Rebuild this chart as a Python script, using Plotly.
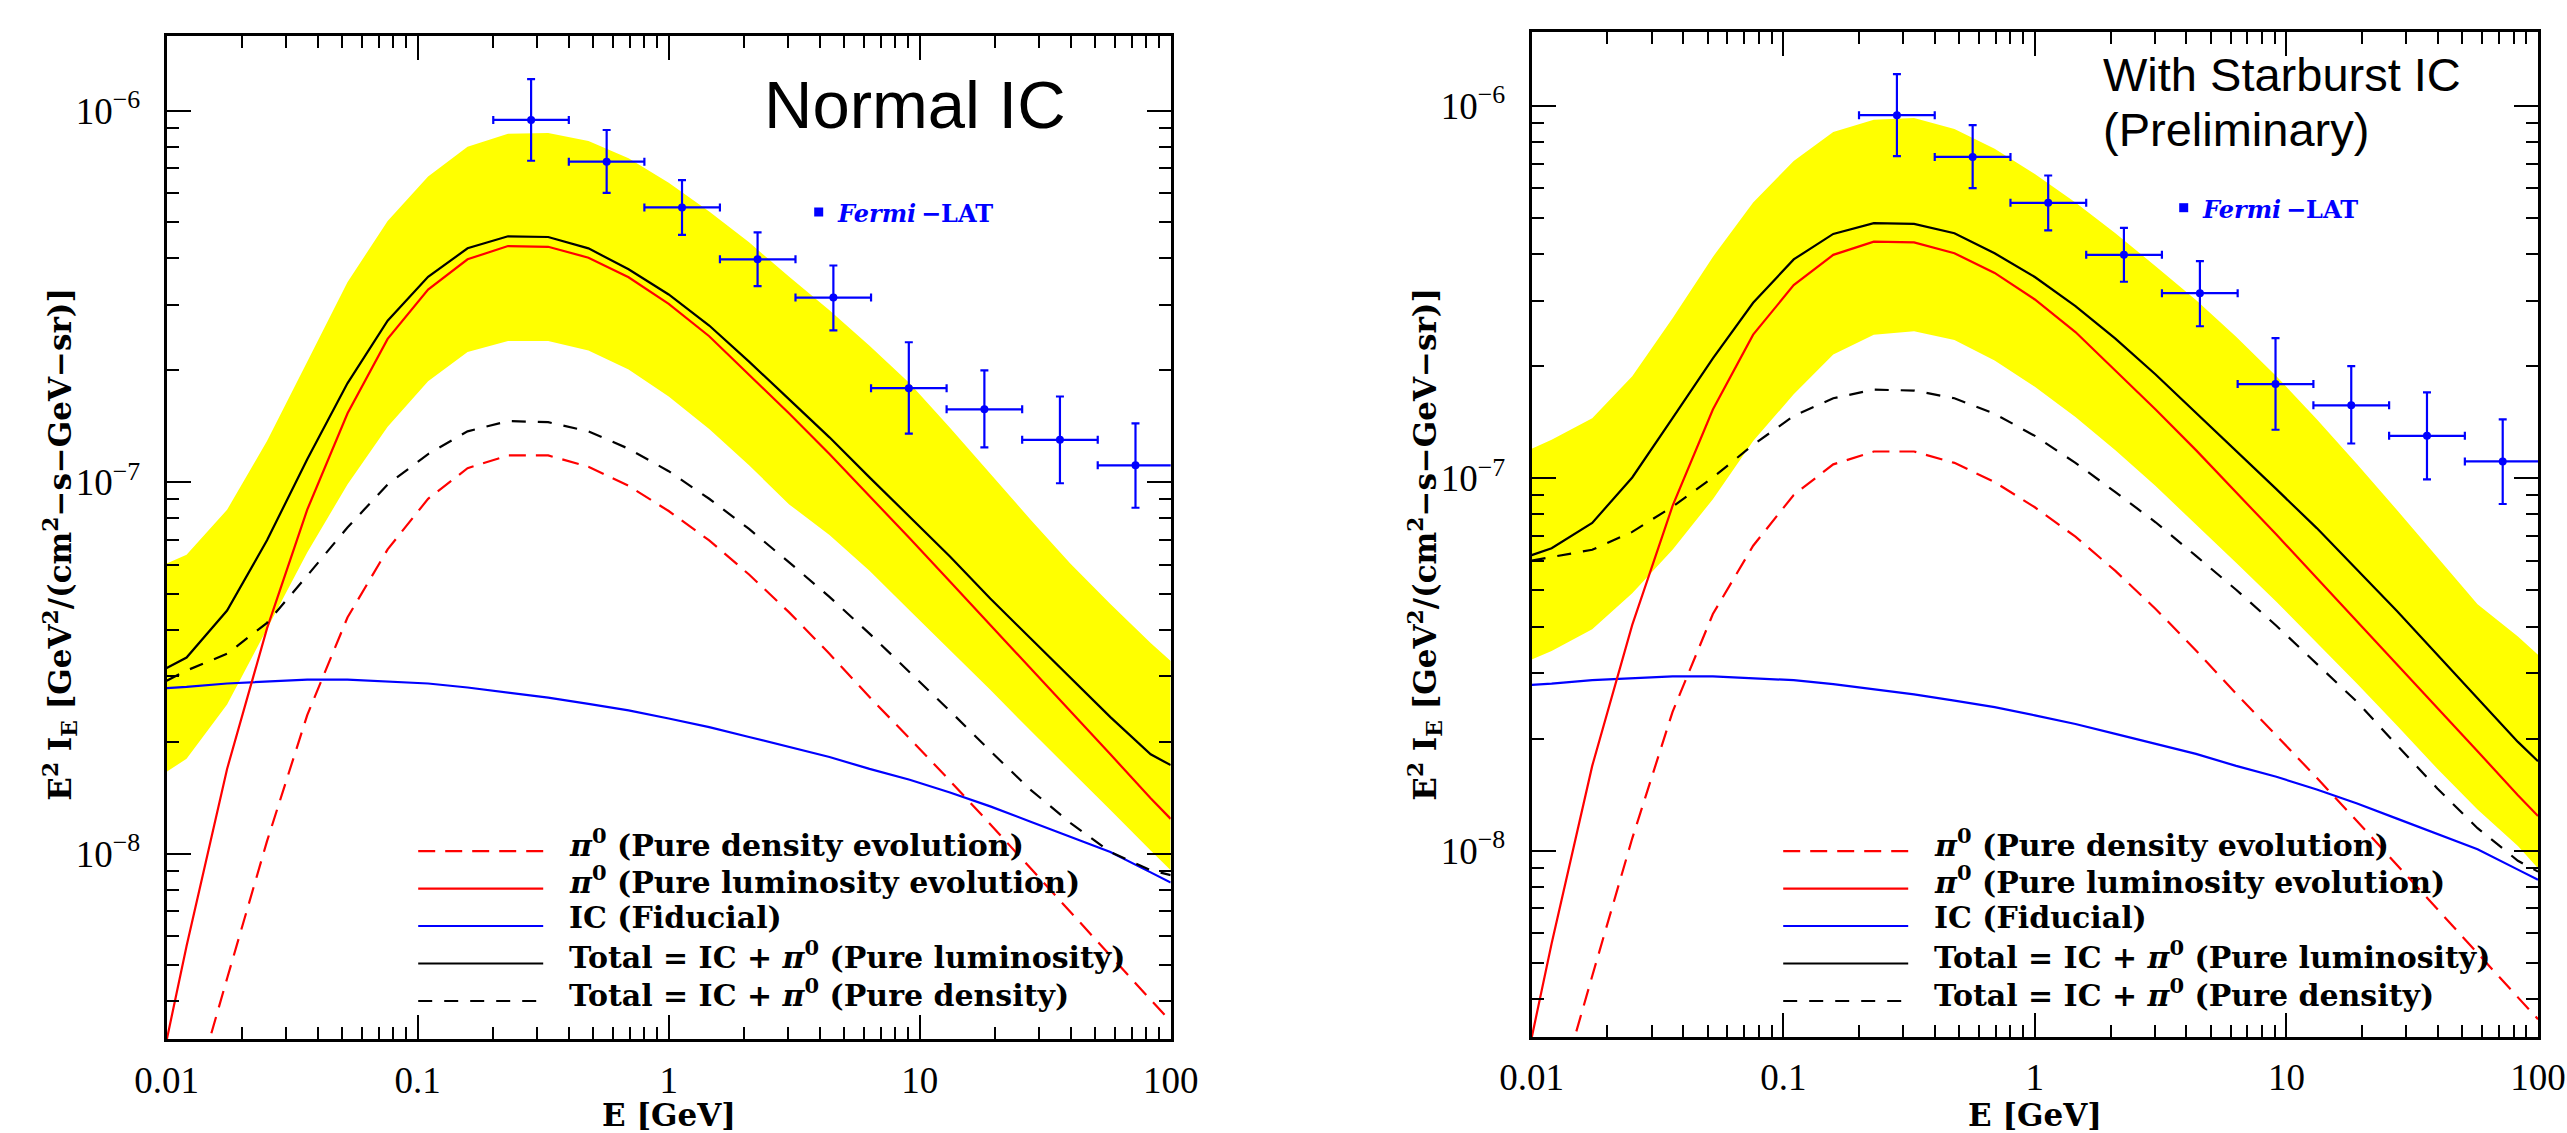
import plotly.graph_objects as go

W, H = 2567, 1133

# ---------------- data ----------------
# Energy grid of the model curves [GeV]
E = [0.01, 0.012, 0.0174, 0.0251, 0.0363, 0.0525, 0.0759, 0.110, 0.158, 0.229,
     0.331, 0.479, 0.692, 1.0, 1.45, 2.09, 3.02, 4.37, 6.31, 9.12,
     13.2, 19.1, 27.5, 39.8, 57.5, 83.2, 100.0]

# shared components (same in both panels)
ic_fiducial = [2.79e-8, 2.81e-8, 2.87e-8, 2.91e-8, 2.94e-8, 2.94e-8, 2.91e-8, 2.87e-8, 2.80e-8, 2.71e-8,
               2.63e-8, 2.53e-8, 2.43e-8, 2.31e-8, 2.19e-8, 2.06e-8, 1.94e-8, 1.82e-8, 1.69e-8, 1.58e-8,
               1.46e-8, 1.34e-8, 1.22e-8, 1.11e-8, 1.01e-8, 8.90e-9, 8.36e-9]
pi0_density = [1.25e-9, 1.93e-9, 4.61e-9, 1.08e-8, 2.36e-8, 4.32e-8, 6.59e-8, 9.02e-8, 1.09e-7, 1.18e-7,
               1.18e-7, 1.10e-7, 9.77e-8, 8.36e-8, 6.97e-8, 5.64e-8, 4.46e-8, 3.45e-8, 2.64e-8, 2.04e-8,
               1.57e-8, 1.20e-8, 9.16e-9, 6.97e-9, 5.28e-9, 4.04e-9, 3.53e-9]
pi0_luminosity = [3.15e-9, 5.64e-9, 1.69e-8, 4.04e-8, 8.43e-8, 1.53e-7, 2.43e-7, 3.30e-7, 3.98e-7, 4.32e-7,
                  4.30e-7, 4.02e-7, 3.56e-7, 3.02e-7, 2.47e-7, 1.95e-7, 1.53e-7, 1.19e-7, 9.18e-8, 7.06e-8,
                  5.40e-8, 4.13e-8, 3.16e-8, 2.42e-8, 1.85e-8, 1.41e-8, 1.24e-8]

# left panel: Normal IC
total_lum_normal = [3.16e-8, 3.37e-8, 4.51e-8, 6.97e-8, 1.153e-7, 1.845e-7, 2.72e-7, 3.57e-7, 4.26e-7, 4.59e-7,
                    4.57e-7, 4.26e-7, 3.74e-7, 3.20e-7, 2.64e-7, 2.11e-7, 1.67e-7, 1.32e-7, 1.03e-7, 8.07e-8,
                    6.31e-8, 4.86e-8, 3.81e-8, 2.98e-8, 2.33e-8, 1.85e-8, 1.73e-8]
total_den_normal = [2.92e-8, 3.11e-8, 3.45e-8, 4.18e-8, 5.60e-8, 7.55e-8, 9.86e-8, 1.19e-7, 1.37e-7, 1.46e-7,
                    1.45e-7, 1.37e-7, 1.23e-7, 1.07e-7, 9.02e-8, 7.48e-8, 6.08e-8, 4.91e-8, 3.91e-8, 3.08e-8,
                    2.42e-8, 1.89e-8, 1.49e-8, 1.21e-8, 1.01e-8, 9.02e-9, 8.75e-9]
band_hi_normal = [6.04e-8, 6.37e-8, 8.43e-8, 1.29e-7, 2.11e-7, 3.45e-7, 5.05e-7, 6.65e-7, 8.00e-7, 8.67e-7,
                  8.71e-7, 8.28e-7, 7.45e-7, 6.40e-7, 5.35e-7, 4.42e-7, 3.57e-7, 2.90e-7, 2.33e-7, 1.845e-7,
                  1.40e-7, 1.05e-7, 7.96e-8, 6.04e-8, 4.70e-8, 3.69e-8, 3.30e-8]
band_lo_normal = [1.66e-8, 1.80e-8, 2.52e-8, 4.04e-8, 6.46e-8, 9.86e-8, 1.41e-7, 1.87e-7, 2.24e-7, 2.40e-7,
                  2.40e-7, 2.26e-7, 2.01e-7, 1.70e-7, 1.39e-7, 1.11e-7, 8.71e-8, 7.21e-8, 5.77e-8, 4.51e-8,
                  3.53e-8, 2.76e-8, 2.15e-8, 1.68e-8, 1.31e-8, 1.02e-8, 9.02e-9]

# right panel: With Starburst IC
total_lum_starburst = [6.22e-8, 6.49e-8, 7.59e-8, 1.005e-7, 1.45e-7, 2.10e-7, 2.96e-7, 3.87e-7, 4.53e-7, 4.84e-7,
                       4.82e-7, 4.55e-7, 4.02e-7, 3.47e-7, 2.90e-7, 2.37e-7, 1.90e-7, 1.50e-7, 1.19e-7, 9.35e-8,
                       7.35e-8, 5.69e-8, 4.40e-8, 3.36e-8, 2.57e-8, 1.96e-8, 1.74e-8]
total_den_starburst = [6.01e-8, 6.14e-8, 6.43e-8, 7.18e-8, 8.39e-8, 1.005e-7, 1.23e-7, 1.47e-7, 1.64e-7, 1.73e-7,
                       1.72e-7, 1.64e-7, 1.49e-7, 1.30e-7, 1.10e-7, 9.18e-8, 7.62e-8, 6.19e-8, 5.02e-8, 4.02e-8,
                       3.18e-8, 2.51e-8, 1.92e-8, 1.47e-8, 1.15e-8, 9.40e-9, 8.79e-9]
band_hi_starburst = [1.20e-7, 1.27e-7, 1.45e-7, 1.88e-7, 2.69e-7, 3.93e-7, 5.50e-7, 7.11e-7, 8.51e-7, 9.18e-7,
                     9.27e-7, 8.67e-7, 7.67e-7, 6.56e-7, 5.50e-7, 4.55e-7, 3.71e-7, 3.01e-7, 2.40e-7, 1.88e-7,
                     1.44e-7, 1.09e-7, 8.22e-8, 6.14e-8, 4.59e-8, 3.76e-8, 3.36e-8]
band_lo_starburst = [3.26e-8, 3.44e-8, 3.93e-8, 4.91e-8, 6.43e-8, 8.79e-8, 1.26e-7, 1.68e-7, 2.15e-7, 2.43e-7,
                     2.48e-7, 2.35e-7, 2.07e-7, 1.76e-7, 1.46e-7, 1.19e-7, 9.53e-8, 7.52e-8, 5.93e-8, 4.66e-8,
                     3.62e-8, 2.81e-8, 2.17e-8, 1.66e-8, 1.29e-8, 1.03e-8, 8.98e-9]

# Fermi-LAT EGB points
fermi_E = [0.283, 0.566, 1.13, 2.26, 4.53, 9.05, 18.1, 36.2, 72.4]
fermi_E_lo = [0.2, 0.4, 0.8, 1.6, 3.2, 6.4, 12.8, 25.6, 51.2]
fermi_E_hi = [0.4, 0.8, 1.6, 3.2, 6.4, 12.8, 25.6, 51.2, 102.4]
fermi_flux = [9.44e-7, 7.29e-7, 5.49e-7, 3.98e-7, 3.14e-7, 1.79e-7, 1.57e-7, 1.30e-7, 1.11e-7]
fermi_flux_hi = [1.216e-6, 8.87e-7, 6.50e-7, 4.70e-7, 3.83e-7, 2.38e-7, 2.00e-7, 1.70e-7, 1.44e-7]
fermi_flux_lo = [7.33e-7, 6.01e-7, 4.63e-7, 3.37e-7, 2.56e-7, 1.35e-7, 1.24e-7, 9.93e-8, 8.53e-8]

x_tickvals = [0.01, 0.1, 1, 10, 100]
x_ticktext = ["0.01", "0.1", "1", "10", "100"]
y_tickvals = [1e-8, 1e-7, 1e-6]
y_ticktext = ["10<sup>\u22128</sup>", "10<sup>\u22127</sup>", "10<sup>\u22126</sup>"]
x_minor = [m * d for d in (0.01, 0.1, 1, 10) for m in range(2, 10)]
y_minor = [m * d for d in (1e-9, 1e-8, 1e-7, 1e-6) for m in range(2, 10)]

legend_items = [
    ("<i>\u03c0</i><sup>0</sup> (Pure density evolution)", "#ff0000", "17px,10px"),
    ("<i>\u03c0</i><sup>0</sup> (Pure luminosity evolution)", "#ff0000", "solid"),
    ("IC (Fiducial)", "#0000ff", "solid"),
    ("Total = IC + <i>\u03c0</i><sup>0</sup> (Pure luminosity)", "#000000", "solid"),
    ("Total = IC + <i>\u03c0</i><sup>0</sup> (Pure density)", "#000000", "14px,12px"),
]

# ---------------- figure ----------------
def fx(x):
    return x / W


def fy(y):
    return 1 - y / H


YEL = "#ffff00"
LW = 2.2
BOLD_FONT = "DejaVu Serif"

panels = [
    dict(xa="x", ya="y", box=(166.7, 36.0, 1170.7, 1039.3), yr=[-8.50, -5.799],
         tl=total_lum_normal, td=total_den_normal, bh=band_hi_normal, bl=band_lo_normal),
    dict(xa="x2", ya="y2", box=(1531.7, 31.7, 2538.0, 1037.0), yr=[-8.50, -5.801],
         tl=total_lum_starburst, td=total_den_starburst, bh=band_hi_starburst, bl=band_lo_starburst),
]

fig = go.Figure()
annotations = []
shapes = []
layout_axes = {}

for i, p in enumerate(panels):
    xa, ya = p["xa"], p["ya"]
    common = dict(xaxis=xa, yaxis=ya, mode="lines", showlegend=False, hoverinfo="skip")
    fig.add_trace(go.Scatter(x=E, y=p["bl"], line=dict(width=0, color=YEL), **common))
    fig.add_trace(go.Scatter(x=E, y=p["bh"], line=dict(width=0, color=YEL), fill="tonexty",
                             fillcolor=YEL, **common))
    fig.add_trace(go.Scatter(x=E, y=ic_fiducial, line=dict(width=LW, color="#0000ff"), **common))
    fig.add_trace(go.Scatter(x=E, y=pi0_density, line=dict(width=LW, color="#ff0000", dash="17px,10px"), **common))
    fig.add_trace(go.Scatter(x=E, y=pi0_luminosity, line=dict(width=LW, color="#ff0000"), **common))
    fig.add_trace(go.Scatter(x=E, y=p["td"], line=dict(width=LW, color="#000000", dash="14px,12px"), **common))
    fig.add_trace(go.Scatter(x=E, y=p["tl"], line=dict(width=LW, color="#000000"), **common))
    fig.add_trace(go.Scatter(
        x=fermi_E, y=fermi_flux, xaxis=xa, yaxis=ya, mode="markers", showlegend=False,
        marker=dict(size=8, color="#0000ff"),
        error_x=dict(type="data", symmetric=False,
                     array=[h - c for h, c in zip(fermi_E_hi, fermi_E)],
                     arrayminus=[c - l for c, l in zip(fermi_E, fermi_E_lo)],
                     color="#0000ff", thickness=2.2, width=4),
        error_y=dict(type="data", symmetric=False,
                     array=[h - c for h, c in zip(fermi_flux_hi, fermi_flux)],
                     arrayminus=[c - l for c, l in zip(fermi_flux, fermi_flux_lo)],
                     color="#0000ff", thickness=2.2, width=4),
    ))

    x0, y0, x1, y1 = p["box"]
    sfx = "" if i == 0 else "2"
    axis_common = dict(type="log", showline=True, linewidth=3, linecolor="black", mirror="allticks",
                       ticks="inside", ticklen=24, tickwidth=2, tickcolor="black", showgrid=False,
                       zeroline=False, automargin=False,
                       tickfont=dict(family="Liberation Serif", size=37, color="black"))
    layout_axes["xaxis" + sfx] = dict(
        axis_common, domain=[fx(x0), fx(x1)], range=[-2, 2], anchor=ya,
        tickmode="array", tickvals=x_tickvals, ticktext=x_ticktext, ticklabelstandoff=6,
        minor=dict(tickvals=x_minor, ticks="inside", ticklen=12, tickwidth=2, tickcolor="black", showgrid=False))
    layout_axes["yaxis" + sfx] = dict(
        axis_common, domain=[fy(y1), fy(y0)], range=p["yr"], anchor=xa,
        tickmode="array", tickvals=y_tickvals, ticktext=y_ticktext, ticklabelstandoff=16,
        minor=dict(tickvals=y_minor, ticks="inside", ticklen=12, tickwidth=2, tickcolor="black", showgrid=False))

    # axis titles
    annotations.append(dict(text="<b>E [GeV]</b>", x=fx((x0 + x1) / 2), y=fy(1115), xref="paper", yref="paper",
                            showarrow=False, xanchor="center", yanchor="middle",
                            font=dict(family=BOLD_FONT, size=31, color="black")))
    annotations.append(dict(text="<b>E<sup>2</sup> I<sub>E</sub> [GeV<sup>2</sup>/(cm<sup>2</sup>\u2212s\u2212GeV\u2212sr)]</b>",
                            x=fx(x0 - 107), y=fy(544), xref="paper", yref="paper", textangle=-90,
                            showarrow=False, xanchor="center", yanchor="middle",
                            font=dict(family=BOLD_FONT, size=31, color="black")))

    # legend (drawn by hand, lower right of each panel)
    row_text_y = [842.6, 880.1, 917.5, 955.0, 992.5]
    for (label, col, dash), ty in zip(legend_items, row_text_y):
        shapes.append(dict(type="line", xref="paper", yref="paper",
                           x0=fx(x0 + 251.5), x1=fx(x0 + 376.5), y0=fy(ty + 8.5), y1=fy(ty + 8.5),
                           line=dict(color=col, width=LW, dash=dash)))
        annotations.append(dict(text="<b>" + label + "</b>", x=fx(x0 + 400), y=fy(ty), xref="paper", yref="paper",
                                showarrow=False, xanchor="left", yanchor="middle",
                                font=dict(family=BOLD_FONT, size=30, color="black")))

    # Fermi-LAT label
    mx = x0 + 652.0
    my = y0 + 176.0
    shapes.append(dict(type="rect", xref="paper", yref="paper",
                       x0=fx(mx - 4.5), x1=fx(mx + 4.5), y0=fy(my - 4.5), y1=fy(my + 4.5),
                       fillcolor="#0000ff", line=dict(width=0)))
    annotations.append(dict(text="<b><i>Fermi</i>\u2009\u2212LAT</b>", x=fx(mx + 16), y=fy(my + 2),
                            xref="paper", yref="paper", showarrow=False, xanchor="left", yanchor="middle",
                            font=dict(family=BOLD_FONT, size=24, color="#0000ff")))

# panel titles
annotations.append(dict(text="Normal IC", x=fx(915), y=fy(104), xref="paper", yref="paper", showarrow=False,
                        xanchor="center", yanchor="middle",
                        font=dict(family="Liberation Sans", size=67, color="black")))
annotations.append(dict(text="With Starburst IC", x=fx(2101), y=fy(74), xref="paper", yref="paper",
                        showarrow=False, xanchor="left", yanchor="middle",
                        font=dict(family="Liberation Sans", size=47, color="black")))
annotations.append(dict(text="(Preliminary)", x=fx(2101), y=fy(130), xref="paper", yref="paper",
                        showarrow=False, xanchor="left", yanchor="middle",
                        font=dict(family="Liberation Sans", size=47, color="black")))

fig.update_layout(
    width=W, height=H, autosize=False,
    margin=dict(l=0, r=0, t=0, b=0, pad=0, autoexpand=False),
    paper_bgcolor="white", plot_bgcolor="white",
    showlegend=False,
    annotations=annotations, shapes=shapes,
    **layout_axes,
)

fig.write_html(
    "out.html", include_plotlyjs=True, full_html=True,
    config={"displayModeBar": False},
    post_script=("document.documentElement.style.margin='0';document.body.style.margin='0';"
                 "document.body.style.padding='0';document.body.style.overflow='hidden';"),
)
